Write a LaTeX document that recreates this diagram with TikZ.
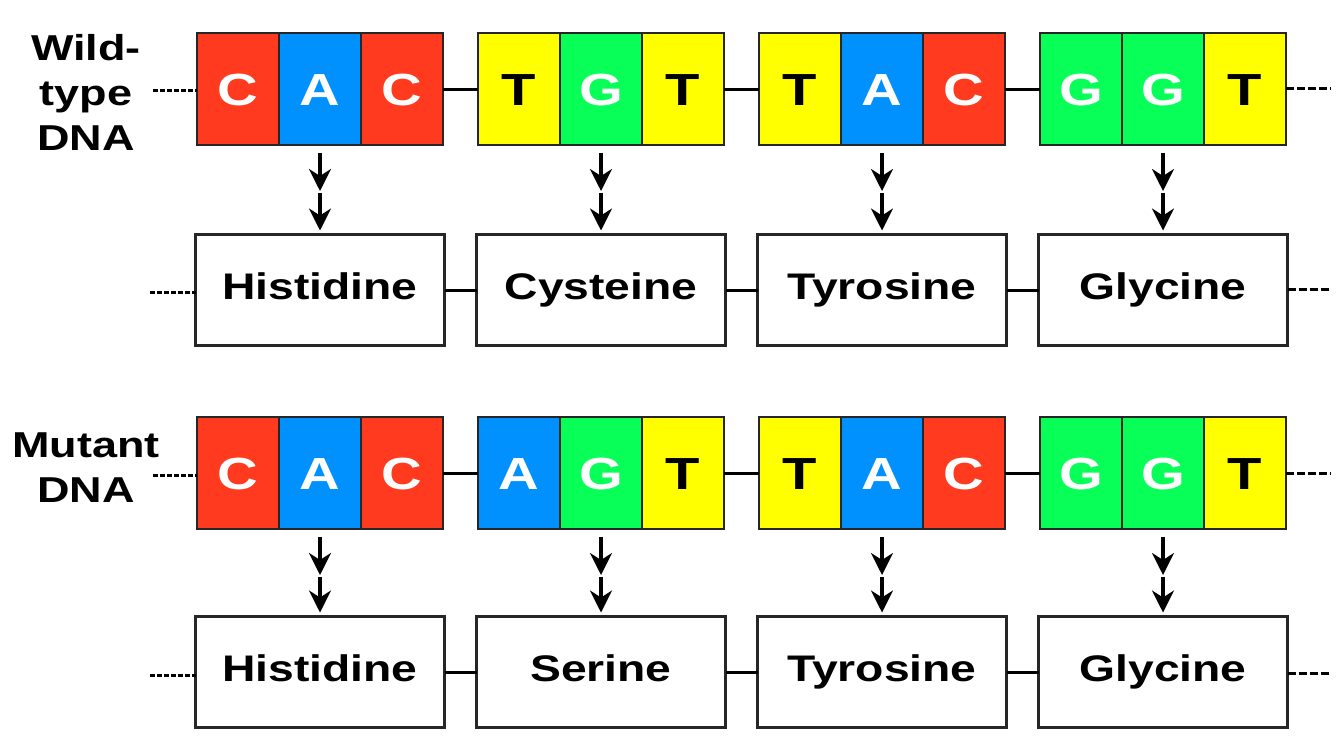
\documentclass[tikz,border=0pt]{standalone}
\usepackage{fontspec}
\setmainfont{Liberation Sans}[FakeStretch=1.25]
\usetikzlibrary{arrows.meta}
\definecolor{nred}{HTML}{FF3A1E}
\definecolor{nblue}{HTML}{0091FF}
\definecolor{ngreen}{HTML}{08FF58}
\definecolor{nyellow}{HTML}{FFFF00}
\tikzset{
  basebox/.style={draw=black!85, line width=2.2pt, minimum width=82pt, minimum height=112pt,
    inner sep=0pt, outer sep=0pt, font=\fontsize{45}{45}\selectfont\bfseries,
    text height=32pt, text depth=0pt},
  bC/.style={fill=nred, text=white},
  bA/.style={fill=nblue, text=white},
  bG/.style={fill=ngreen, text=white},
  bT/.style={fill=nyellow, text=black},
  aminobox/.style={draw=black!85, fill=white, line width=2.2pt, minimum width=249pt, minimum height=111pt,
    inner sep=0pt, outer sep=0pt, font=\fontsize{37}{37}\selectfont\bfseries,
    text height=19pt, text depth=0pt},
  link/.style={line width=3pt, black},
  dots/.style={line width=3pt, black, dash pattern=on 4.5pt off 2.5pt},
  rdots/.style={line width=3pt, black, dash pattern=on 8pt off 3pt},
  arr/.style={line width=3.2pt, black, -{Stealth[length=22pt,width=22pt,inset=7pt]}},
  sidelabel/.style={font=\fontsize{36}{45}\selectfont\bfseries, align=center, inner sep=0pt, anchor=north}
}
\begin{document}
\begin{tikzpicture}[x=1pt,y=-1pt]
\useasboundingbox[fill=white] (0,0) rectangle (1341,745);

% ---- DNA rows ----
\foreach \r/\yc/\letters in {w/89/{C,A,C,T,G,T,T,A,C,G,G,T}, m/473/{C,A,C,A,G,T,T,A,C,G,G,T}} {
  \foreach \L [count=\k from 0] in \letters {
    \pgfmathtruncatemacro\ci{floor(\k/3)+1}
    \pgfmathtruncatemacro\bj{mod(\k,3)+1}
    \pgfmathsetmacro\bx{197+281*floor(\k/3)+41+82*mod(\k,3)}
    \node[basebox, b\L] (\r-\ci-\bj) at (\bx,\yc) {\L};
  }
}

% ---- amino acid rows ----
\foreach \r/\yc/\names in {w/290/{Histidine,Cysteine,Tyrosine,Glycine}, m/672/{Histidine,Serine,Tyrosine,Glycine}} {
  \foreach \N [count=\i] in \names {
    \pgfmathsetmacro\ax{320+281*(\i-1)}
    \node[aminobox] (\r a-\i) at (\ax,\yc) {\N};
  }
}

% ---- links between codons and amino acids ----
\foreach \r in {w,m} {
  \foreach \i/\n in {1/2,2/3,3/4} {
    \draw[link] (\r-\i-3.east) -- (\r-\n-1.west);
    \draw[link] (\r a-\i.east) -- (\r a-\n.west);
  }
  % arrows
  \foreach \i in {1,2,3,4} {
    \coordinate (\r mid-\i) at ([yshift=-46pt]\r-\i-2.south);
    \draw[arr] ([yshift=-8pt]\r-\i-2.south) -- (\r mid-\i);
    \draw[arr, shorten >=4pt] ([yshift=-2pt]\r mid-\i) -- (\r a-\i.north);
  }
}

% ---- dotted free ends ----
\coordinate (wlL) at (153,90);
\coordinate (wlR) at (1331,88);
\coordinate (walL) at (150,292);
\coordinate (walR) at (1331,289);
\coordinate (mlL) at (153,475);
\coordinate (mlR) at (1331,473);
\coordinate (malL) at (150,675);
\coordinate (malR) at (1331,673);
\draw[dots] (wlL) -- (wlL -| w-1-1.west);
\draw[rdots] (wlR -| w-4-3.east) -- (wlR);
\draw[dots] (walL) -- (walL -| wa-1.west);
\draw[rdots] (walR -| wa-4.east) -- (walR);
\draw[dots] (mlL) -- (mlL -| m-1-1.west);
\draw[rdots] (mlR -| m-4-3.east) -- (mlR);
\draw[dots] (malL) -- (malL -| ma-1.west);
\draw[rdots] (malR -| ma-4.east) -- (malR);

% ---- side labels ----
\node[sidelabel] (wlabel) at (86,34) {Wild-\\type\\DNA};
\node[sidelabel] (mlabel) at (86,433) {Mutant\\DNA};
\end{tikzpicture}
\end{document}
